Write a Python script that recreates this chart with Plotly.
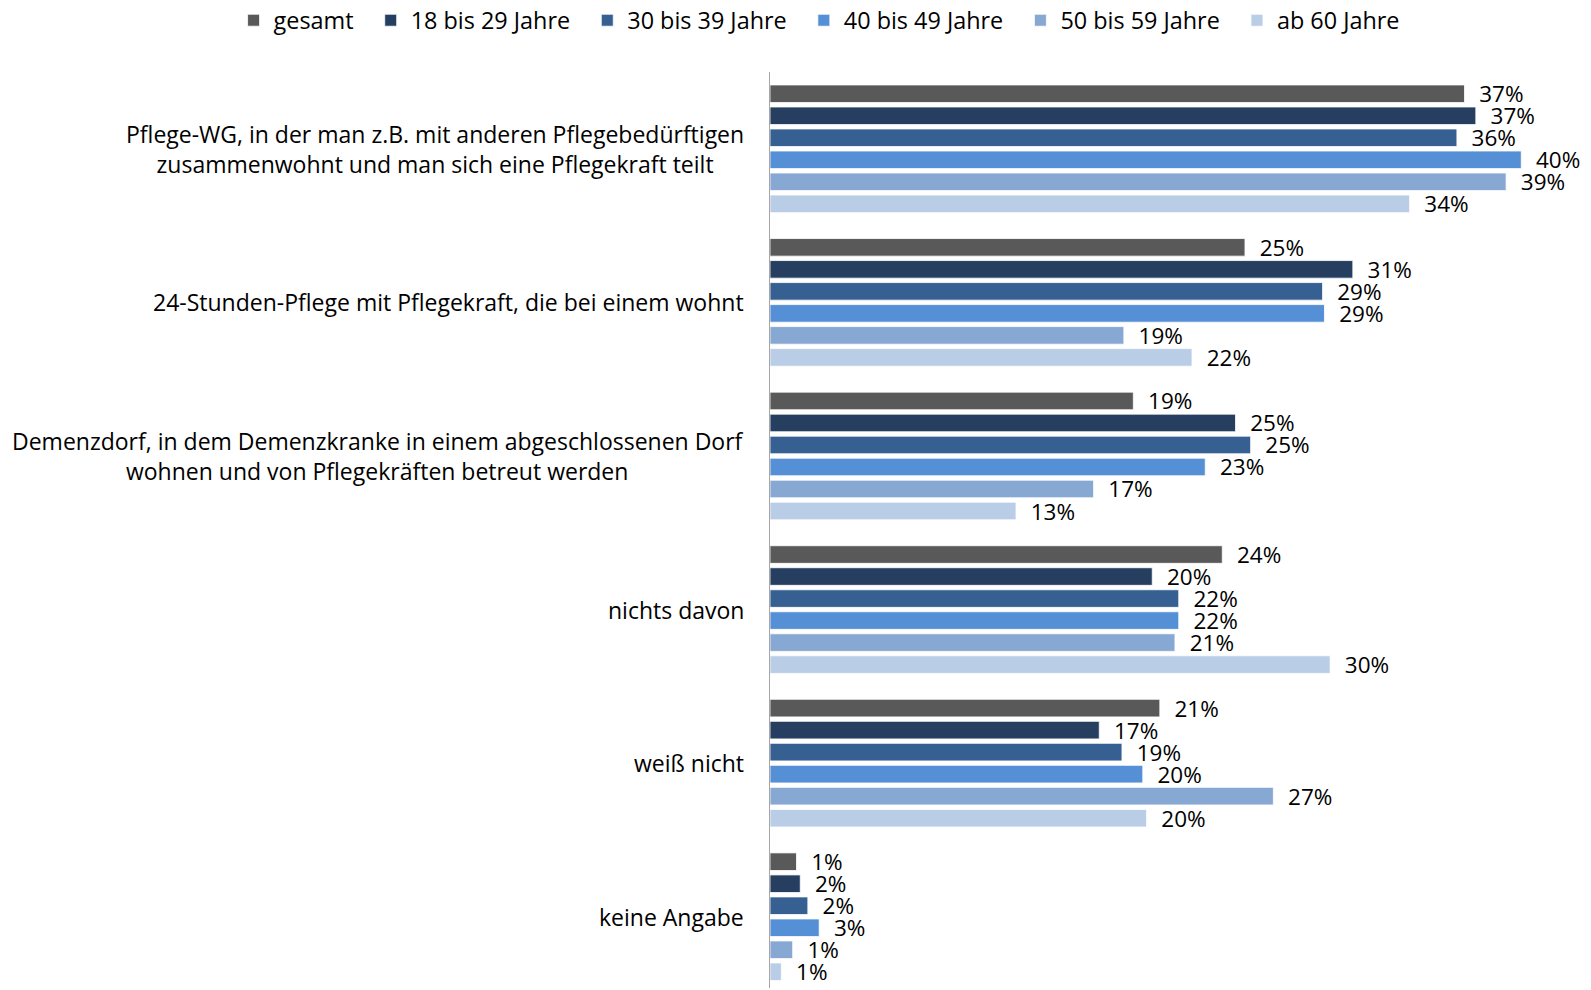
import plotly.graph_objects as go

categories = [
    "Pflege-WG, in der man z.B. mit anderen Pflegebedürftigen<br>zusammenwohnt und man sich eine Pflegekraft teilt",
    "24-Stunden-Pflege mit Pflegekraft, die bei einem wohnt",
    "Demenzdorf, in dem Demenzkranke in einem abgeschlossenen Dorf<br>wohnen und von Pflegekräften betreut werden",
    "nichts davon",
    "weiß nicht",
    "keine Angabe",
]
series_names = ["gesamt", "18 bis 29 Jahre", "30 bis 39 Jahre", "40 bis 49 Jahre", "50 bis 59 Jahre", "ab 60 Jahre"]
colors = ["#595959", "#263f61", "#366092", "#558fd6", "#88a8d4", "#b9cde6"]

gesamt = [36.7, 25.1, 19.2, 23.9, 20.6, 1.4]
j18_29 = [37.3, 30.8, 24.6, 20.2, 17.4, 1.6]
j30_39 = [36.3, 29.2, 25.4, 21.6, 18.6, 2.0]
j40_49 = [39.7, 29.3, 23.0, 21.6, 19.7, 2.6]
j50_59 = [38.9, 18.7, 17.1, 21.4, 26.6, 1.2]
ab60 = [33.8, 22.3, 13.0, 29.6, 19.9, 0.6]
series_values = [gesamt, j18_29, j30_39, j40_49, j50_59, ab60]

FONT = "Open Sans, Noto Sans, sans-serif"
NB = "\u00a0"

fig = go.Figure()
for name, vals, col in zip(series_names, series_values, colors):
    fig.add_trace(go.Bar(
        y=categories, x=vals, name=name + NB * 2, orientation="h",
        marker=dict(color=col, line=dict(color="white", width=0.8)),
        texttemplate=NB * 2 + "%{x:.0f}%", textposition="outside", constraintext="none",
        cliponaxis=False,
        textfont=dict(size=22.5, color="#000000", family=FONT),
    ))

for cat in categories:
    fig.add_annotation(
        x=0, xref="paper", y=cat, yref="y", xanchor="right", yanchor="middle",
        xshift=-24, text=cat, showarrow=False, align="center",
        font=dict(size=23.0, color="#000000", family=FONT),
    )

fig.update_layout(
    width=1590, height=980,
    margin=dict(l=762, r=30, t=64, b=0, autoexpand=False),
    paper_bgcolor="white", plot_bgcolor="white",
    barmode="group", bargap=0.14, bargroupgap=0.2,
    font=dict(family=FONT, size=23.0, color="#000000"),
    showlegend=True,
    legend=dict(orientation="h", x=-0.6722, xanchor="left", y=1.0562, yanchor="middle",
                font=dict(size=23.4, family=FONT), itemwidth=30, traceorder="normal"),
    xaxis=dict(range=[0, 42.17], showgrid=False, zeroline=False, showticklabels=False,
               showline=False, ticks=""),
    yaxis=dict(range=[5.464, -0.5], showticklabels=False, showgrid=False, ticks="",
               showline=True, linecolor="#a6a6a6", linewidth=1.3),
)

fig.write_html("out.html")
